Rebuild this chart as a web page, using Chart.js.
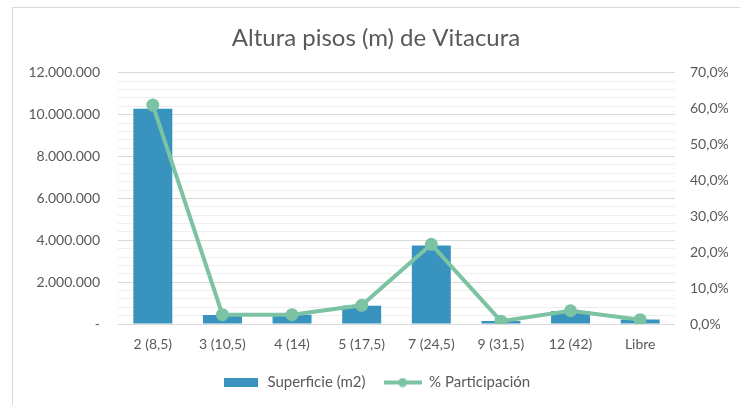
<!DOCTYPE html>
<html>
<head>
<meta charset="utf-8">
<script src="https://cdn.jsdelivr.net/npm/chart.js@4"></script>
<style>
  html, body { margin: 0; padding: 0; background: #fff; overflow: hidden; }
  #wrap { position: relative; width: 740px; height: 405px; }
  #frame { position: absolute; left: 12px; top: 7px; width: 800px; height: 500px; border: 1px solid #d9d9d9; }
  canvas { position: absolute; left: 0; top: 0; }
</style>
</head>
<body>
<div id="wrap">
  <div id="frame"></div>
  <canvas id="chart" width="740" height="405"></canvas>
</div>
<script>
var categories = ['2 (8,5)', '3 (10,5)', '4 (14)', '5 (17,5)', '7 (24,5)', '9 (31,5)', '12 (42)', 'Libre'];
var superficie = [10280000, 430000, 440000, 870000, 3750000, 140000, 620000, 210000];
var participacion = [61.0, 2.6, 2.6, 5.2, 22.2, 0.8, 3.7, 1.2];

var textColor = '#595959';
var barColor = '#3893be';
var lineColor = '#7bc3a3';
var fontName = 'Lato, "Noto Sans", sans-serif';

function miles(v) {
  return String(v).replace(/\B(?=(\d{3})+(?!\d))/g, '.');
}

// little pictures for the legend
function legendBar() {
  var c = document.createElement('canvas');
  c.width = 34; c.height = 9;
  var g = c.getContext('2d');
  g.fillStyle = barColor;
  g.fillRect(0, 0, 34, 9);
  return c;
}
function legendLine() {
  var c = document.createElement('canvas');
  c.width = 38; c.height = 10;
  var g = c.getContext('2d');
  g.strokeStyle = lineColor;
  g.lineWidth = 4;
  g.beginPath(); g.moveTo(0, 5); g.lineTo(38, 5); g.stroke();
  g.fillStyle = lineColor;
  g.beginPath(); g.arc(19, 5, 4.5, 0, Math.PI * 2); g.fill();
  return c;
}
var legendPics = [legendBar(), legendLine()];

new Chart(document.getElementById('chart').getContext('2d'), {
  type: 'bar',
  data: {
    labels: categories,
    datasets: [{
      type: 'bar',
      label: 'Superficie (m2)',
      data: superficie,
      backgroundColor: barColor,
      yAxisID: 'y',
      order: 1,
      categoryPercentage: 1,
      barPercentage: 0.56
    }, {
      type: 'line',
      label: '% Participación',
      data: participacion,
      borderColor: lineColor,
      backgroundColor: lineColor,
      borderWidth: 4,
      pointRadius: 4.5,
      pointHoverRadius: 4.5,
      tension: 0,
      yAxisID: 'y1',
      order: 0
    }]
  },
  options: {
    responsive: false,
    animation: false,
    layout: { padding: { left: 12, right: 0, top: 0, bottom: 5 } },
    plugins: {
      title: {
        display: true,
        text: 'Altura pisos (m) de Vitacura',
        color: textColor,
        font: { family: fontName, size: 24, weight: 'normal' },
        padding: { top: 24, bottom: 20 }
      },
      legend: {
        position: 'bottom',
        labels: {
          usePointStyle: true,
          pointStyleWidth: 38,
          padding: 18,
          color: textColor,
          font: { family: fontName, size: 15 },
          sort: function (a, b) { return a.datasetIndex - b.datasetIndex; },
          generateLabels: function (chart) {
            var items = Chart.defaults.plugins.legend.labels.generateLabels(chart);
            items.forEach(function (it) { it.pointStyle = legendPics[it.datasetIndex]; });
            return items;
          }
        }
      },
      tooltip: { enabled: false }
    },
    scales: {
      x: {
        grid: { display: false, drawTicks: false },
        border: { display: false },
        ticks: { color: textColor, font: { family: fontName, size: 14 }, padding: 12, maxRotation: 0 },
        afterFit: function (s) { s.height = 33; }
      },
      y: {
        position: 'left',
        min: 0,
        max: 12000000,
        border: { display: false },
        grid: {
          drawTicks: false,
          lineWidth: 1,
          color: function (ctx) {
            return ctx.tick && ctx.tick.value % 2000000 === 0 ? '#d9d9d9' : '#efefef';
          }
        },
        ticks: {
          stepSize: 400000,
          autoSkip: false,
          padding: 18,
          color: textColor,
          font: { family: fontName, size: 14 },
          callback: function (v) {
            if (v === 0) return '-';
            if (v % 2000000 !== 0) return '';
            return miles(v);
          }
        },
        afterFit: function (s) { s.width = 106; }
      },
      y1: {
        position: 'right',
        min: 0,
        max: 70,
        border: { display: false },
        grid: { display: false, drawTicks: false },
        ticks: {
          stepSize: 10,
          padding: 15,
          color: textColor,
          font: { family: fontName, size: 14 },
          callback: function (v) { return v.toFixed(1).replace('.', ',') + '%'; }
        },
        afterFit: function (s) { s.width = 65; }
      }
    }
  }
});
</script>
</body>
</html>
